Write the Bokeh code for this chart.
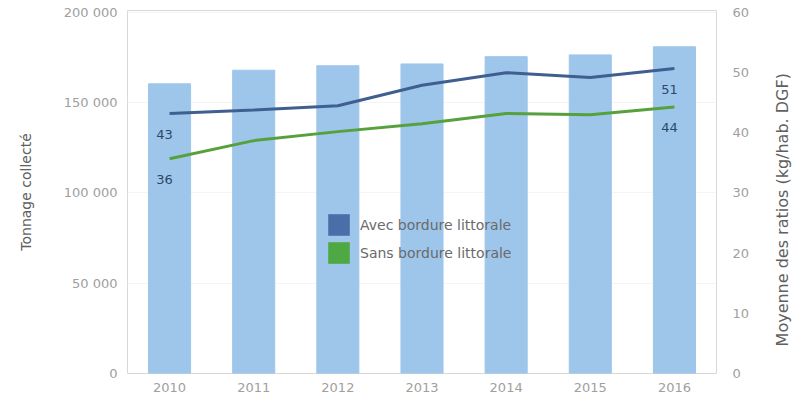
import math
from bokeh.plotting import figure
from bokeh.models import (Range1d, LinearAxis, FactorRange, FixedTicker, Legend,
                          LegendItem, ColumnDataSource)
from bokeh.embed import file_html
from bokeh.resources import INLINE
from bokeh.core.properties import value

years = ["2010", "2011", "2012", "2013", "2014", "2015", "2016"]
tonnage = [160500, 168000, 170500, 171500, 175500, 176500, 181000]
avec = [43.2, 43.8, 44.5, 47.9, 50.0, 49.2, 50.7]
sans = [35.7, 38.7, 40.2, 41.5, 43.2, 43.0, 44.3]
left_ticks = [0, 50000, 100000, 150000, 200000]
left_tick_labels = ["0", "50 000", "100 000", "150 000", "200 000"]
right_ticks = [0, 10, 20, 30, 40, 50, 60]
series_names = ["Avec bordure littorale", "Sans bordure littorale"]
left_title = "Tonnage collecté"
right_title = "Moyenne des ratios (kg/hab. DGF)"

FONT = "DejaVu Sans"
BAR = "#9ec6ea"
C_AVEC = "#3e5f8f"
C_SANS = "#56a13c"
SW_AVEC = "#4a6fa8"
SW_SANS = "#4ea843"
GRAY = "#a0a0a0"
TITLE = "#606060"
FRAME = "#d8d8d8"

W, H = 804, 399
FL, FT, FR, FB = 127, 10, 716, 373   # frame edges in the page
RATIO_END = 60.33

p = figure(x_range=FactorRange(*years, range_padding=0), y_range=Range1d(0, 201100),
           width=W, height=H, output_backend="svg", toolbar_location=None,
           min_border_left=FL, min_border_top=FT, min_border_right=W - FR,
           min_border_bottom=H - FB)
p.extra_y_ranges = {"ratio": Range1d(0, RATIO_END)}

p.outline_line_color = FRAME
p.outline_line_width = 1
p.xgrid.grid_line_color = None
p.ygrid.grid_line_color = "#f4f4f4"
p.ygrid.ticker = FixedTicker(ticks=left_ticks)

p.vbar(x=years, top=tonnage, width=0.5, color=BAR)
p.line(years, avec, y_range_name="ratio", line_width=3, color=C_AVEC)
p.line(years, sans, y_range_name="ratio", line_width=3, color=C_SANS)

lab_src = ColumnDataSource(dict(
    x=[years[0], years[-1], years[0], years[-1]],
    y=[avec[0], avec[-1], sans[0], sans[-1]],
    t=[str(round(v)) for v in [avec[0], avec[-1], sans[0], sans[-1]]],
))
p.text(x="x", y="y", text="t", source=lab_src, y_range_name="ratio",
       text_align="center", text_baseline="middle", x_offset=-5, y_offset=21,
       text_font=value(FONT), text_font_size="13px", text_color="#2c4869")

# legend swatches (zero-height, outline-free bars, only used for the legend glyphs)
sw1 = p.vbar(x=[years[0]], top=[0], width=0.5, fill_color=SW_AVEC, line_alpha=0)
sw2 = p.vbar(x=[years[0]], top=[0], width=0.5, fill_color=SW_SANS, line_alpha=0)
legend = Legend(items=[LegendItem(label=series_names[0], renderers=[sw1]),
                       LegendItem(label=series_names[1], renderers=[sw2])],
                location=(198, 107), padding=0, margin=0, spacing=1,
                glyph_width=27, glyph_height=27, label_standoff=8,
                border_line_color=None, background_fill_alpha=0,
                label_text_font=FONT, label_text_font_size="14px",
                label_text_color="#6a6a6a")
p.add_layout(legend, "center")

ax = p.xaxis[0]
ax.axis_line_color = None
ax.major_tick_line_color = None
ax.minor_tick_line_color = None
ax.major_tick_out = 0
ax.major_tick_in = 0
ax.major_label_standoff = 9
ax.major_label_text_font = FONT
ax.major_label_text_font_size = "13px"
ax.major_label_text_color = GRAY

ly = p.yaxis[0]
ly.ticker = FixedTicker(ticks=left_ticks)
ly.major_label_overrides = {t: l for t, l in zip(left_ticks, left_tick_labels)}
ly.axis_line_color = None
ly.major_tick_line_color = None
ly.minor_tick_line_color = None
ly.major_tick_out = 0
ly.major_tick_in = 0
ly.major_label_standoff = 10
ly.major_label_text_font = FONT
ly.major_label_text_font_size = "13px"
ly.major_label_text_color = GRAY
ly.axis_label = left_title
ly.axis_label_standoff = 27
ly.axis_label_text_font = FONT
ly.axis_label_text_font_style = "normal"
ly.axis_label_text_font_size = "14px"
ly.axis_label_text_color = TITLE

ry = LinearAxis(y_range_name="ratio", ticker=FixedTicker(ticks=right_ticks))
ry.axis_line_color = None
ry.major_tick_line_color = None
ry.minor_tick_line_color = None
ry.major_tick_out = 0
ry.major_tick_in = 0
ry.major_label_standoff = 16
ry.major_label_text_font = FONT
ry.major_label_text_font_size = "13px"
ry.major_label_text_color = GRAY
p.add_layout(ry, "right")

# right title: an outer axis with one tick whose label reads bottom-to-top
# (the label starts at the tick and runs upward)
title_pos = 4.5
rt = LinearAxis(y_range_name="ratio", ticker=FixedTicker(ticks=[title_pos]))
rt.major_label_overrides = {title_pos: right_title}
rt.major_label_orientation = math.pi / 2
rt.axis_line_color = None
rt.major_tick_line_color = None
rt.minor_tick_line_color = None
rt.major_tick_out = 0
rt.major_tick_in = 0
rt.major_label_standoff = 30
rt.major_label_text_font = FONT
rt.major_label_text_font_size = "16px"
rt.major_label_text_color = TITLE
p.add_layout(rt, "right")

open("out.html", "w").write(file_html(p, INLINE))
